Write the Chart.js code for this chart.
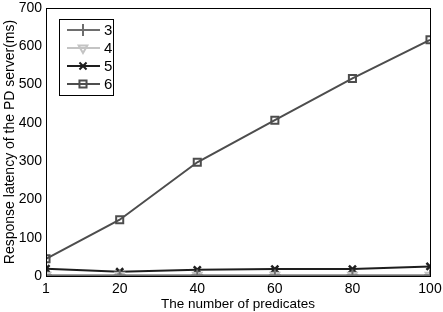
<!DOCTYPE html>
<html>
<head>
<meta charset="utf-8">
<script src="https://cdn.jsdelivr.net/npm/chart.js@4.4.1/dist/chart.umd.min.js"></script>
<style>
  html, body { margin: 0; padding: 0; background: #fff; }
  #wrap { width: 443px; height: 312px; }
</style>
</head>
<body>
<div id="wrap"><canvas id="latencyChart"></canvas></div>
<script>
// number of predicates on the x axis
const predicates = [1, 20, 40, 60, 80, 100];
const xTicks = [1, 20, 40, 60, 80, 100];
const yTicks = [0, 100, 200, 300, 400, 500, 600, 700];

// response latency (ms) per series
const series3 = [1, 1, 1, 1, 1, 1];
const series4 = [2, 2, 2, 2, 2, 2];
const series5 = [19, 11, 16, 18, 18, 25];
const series6 = [45, 147, 297, 407, 516, 617];

const FONT = "'Liberation Sans', Arial, sans-serif";

function toPoints(values) {
    return predicates.map((x, i) => ({ x: x, y: values[i] }));
}

// MATLAB style box around the plot area + legend box in the top-left corner
const boxLegend = {
    id: 'boxLegend',
    afterDraw(chart) {
        const { ctx, chartArea } = chart;
        ctx.save();
        ctx.strokeStyle = '#000';
        ctx.lineWidth = 1;
        ctx.strokeRect(chartArea.left + 0.5, chartArea.top + 0.5,
            chartArea.right - chartArea.left, chartArea.bottom - chartArea.top);

        const bx = 59, by = 19, bw = 54, bh = 76;
        ctx.fillStyle = '#fff';
        ctx.fillRect(bx, by, bw, bh);
        ctx.strokeRect(bx + 0.5, by + 0.5, bw, bh);

        ctx.font = '15px ' + FONT;
        ctx.textBaseline = 'middle';
        chart.data.datasets.forEach((ds, i) => {
            const cy = by + 11 + i * 18;
            ctx.strokeStyle = ds.borderColor;
            ctx.lineWidth = ds.borderWidth;
            ctx.beginPath();
            ctx.moveTo(bx + 8, cy);
            ctx.lineTo(bx + 41, cy);
            ctx.stroke();
            ctx.fillStyle = 'rgba(0,0,0,0)';
            Chart.helpers.drawPoint(ctx, {
                pointStyle: ds.pointStyle,
                radius: ds.pointRadius,
                rotation: ds.pointRotation || 0,
                borderWidth: ds.pointBorderWidth || 2
            }, bx + 24, cy);
            ctx.fillStyle = '#000';
            ctx.fillText(ds.label, bx + 45, cy + 1);
        });
        ctx.restore();
    }
};

function lineSet(label, values, color, style, opts) {
    return Object.assign({
        label: label,
        data: toPoints(values),
        borderColor: color,
        backgroundColor: 'rgba(0,0,0,0)',
        pointBorderColor: color,
        pointBackgroundColor: 'rgba(0,0,0,0)',
        borderWidth: 2,
        pointBorderWidth: 2,
        pointStyle: style,
        pointRadius: 5,
        tension: 0
    }, opts || {});
}

new Chart(document.getElementById('latencyChart').getContext('2d'), {
    type: 'line',
    data: {
        datasets: [
            lineSet('3', series3, '#6e6e6e', 'cross', { pointRadius: 6 }),
            lineSet('4', series4, '#c4c4c4', 'triangle', { pointRotation: 180, pointRadius: 5 }),
            lineSet('5', series5, '#1e1e1e', 'crossRot', { pointRadius: 5, pointBorderWidth: 2.5 }),
            lineSet('6', series6, '#4d4d4d', 'rect', { pointRadius: 5 })
        ]
    },
    options: {
        responsive: true,
        maintainAspectRatio: false,
        animation: false,
        layout: { padding: { top: 5, right: 13, left: 2, bottom: 0 } },
        plugins: {
            legend: { display: false },
            tooltip: { enabled: false }
        },
        scales: {
            x: {
                type: 'linear',
                min: 1,
                max: 100,
                afterBuildTicks: (scale) => { scale.ticks = xTicks.map(v => ({ value: v })); },
                afterFit: (scale) => {
                    scale.height = 36;
                    scale.paddingLeft = 0;
                    scale.paddingRight = 0;
                },
                grid: { display: false, drawTicks: false },
                border: { color: '#000', width: 1 },
                ticks: { color: '#000', font: { family: FONT, size: 14 }, padding: 5, maxRotation: 0 },
                title: { display: true, text: 'The number of predicates', color: '#000',
                         font: { family: FONT, size: 13.5 }, padding: { top: 0, bottom: 0 } }
            },
            y: {
                min: 0,
                max: 700,
                afterBuildTicks: (scale) => { scale.ticks = yTicks.map(v => ({ value: v })); },
                afterFit: (scale) => {
                    scale.width = 44;
                    scale.paddingTop = 0;
                    scale.paddingBottom = 0;
                },
                grid: { display: false, drawTicks: false },
                border: { color: '#000', width: 1 },
                ticks: { color: '#000', font: { family: FONT, size: 14 }, padding: 4 },
                title: { display: true, text: 'Response latency of the PD server(ms)', color: '#000',
                         font: { family: FONT, size: 14 }, padding: { top: 0, bottom: 0 } }
            }
        }
    },
    plugins: [boxLegend]
});
</script>
</body>
</html>
